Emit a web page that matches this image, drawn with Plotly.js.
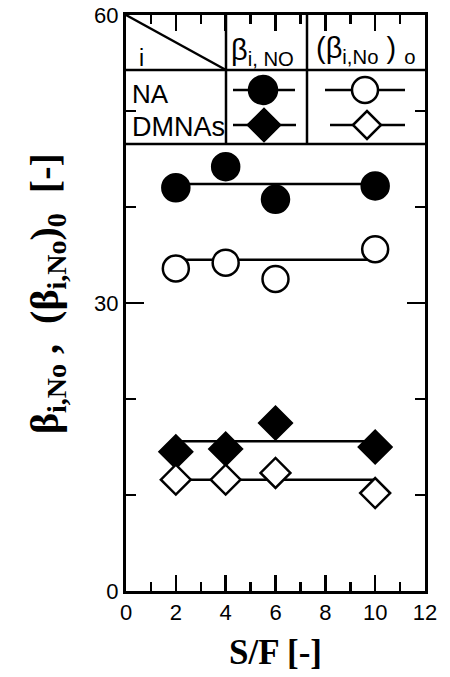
<!DOCTYPE html>
<html><head><meta charset="utf-8">
<script src="https://cdn.plot.ly/plotly-3.0.1.min.js"></script>
<style>body{margin:0;background:#fff}#g{width:450px;height:677px}</style>
</head><body><div id="g"></div>
<script>
const sf = [2, 4, 6, 10];
const naBeta = [42.0, 44.2, 40.8, 42.2];
const naBeta0 = [33.6, 34.2, 32.5, 35.6];
const dmBeta = [14.5, 14.8, 17.5, 15.0];
const dmBeta0 = [11.6, 11.6, 12.3, 10.2];
const fitX = [2, 10];
const naFit = [42.4, 42.4];
const naFit0 = [34.5, 34.5];
const dmFit = [15.6, 15.6];
const dmFit0 = [11.6, 11.6];

const lineStyle = {color: '#000', width: 2.5};
function fit(y) { return {x: fitX, y: y, mode: 'lines', line: lineStyle, hoverinfo: 'skip', showlegend: false}; }
function pts(y, sym, fill, size) {
  return {x: sf, y: y, mode: 'markers', showlegend: false,
    marker: {symbol: sym, size: size, color: fill, line: {color: '#000', width: 2.5}}};
}
const data = [
  fit(naFit), fit(naFit0), fit(dmFit), fit(dmFit0),
  pts(naBeta, 'circle', '#000', 27),
  pts(naBeta0, 'circle', '#fff', 26),
  pts(dmBeta, 'diamond', '#000', 25),
  pts(dmBeta0, 'diamond', '#fff', 23)
];

// pixel -> paper helpers
const L = 126, R = 425, T = 15, B = 591;
const px = v => (v - L) / (R - L);
const py = v => (B - v) / (B - T);
const k = {color: '#000', width: 2.5};
const shapes = [
  {type: 'line', xref: 'paper', yref: 'paper', x0: 0, x1: 1, y0: py(70), y1: py(70), line: k},
  {type: 'line', xref: 'paper', yref: 'paper', x0: 0, x1: 1, y0: py(144), y1: py(144), line: k},
  {type: 'line', xref: 'paper', yref: 'paper', x0: px(226), x1: px(226), y0: py(144), y1: 1, line: k},
  {type: 'line', xref: 'paper', yref: 'paper', x0: px(307), x1: px(307), y0: py(144), y1: 1, line: k},
  {type: 'line', xref: 'paper', yref: 'paper', x0: 0, x1: px(226), y0: 1, y1: py(70), line: k},
  // legend sample lines
  {type: 'line', xref: 'paper', yref: 'paper', x0: px(233), x1: px(295), y0: py(90), y1: py(90), line: k},
  {type: 'line', xref: 'paper', yref: 'paper', x0: px(233), x1: px(296), y0: py(125), y1: py(125), line: k},
  {type: 'line', xref: 'paper', yref: 'paper', x0: px(325), x1: px(405), y0: py(90), y1: py(90), line: k},
  {type: 'line', xref: 'paper', yref: 'paper', x0: px(330), x1: px(405), y0: py(125), y1: py(125), line: k},
  // legend sample markers
  {type: 'circle', xref: 'paper', yref: 'paper', xsizemode: 'pixel', ysizemode: 'pixel',
   xanchor: px(263), yanchor: py(90), x0: -14, x1: 14, y0: -14, y1: 14,
   fillcolor: '#000', line: k},
  {type: 'circle', xref: 'paper', yref: 'paper', xsizemode: 'pixel', ysizemode: 'pixel',
   xanchor: px(365), yanchor: py(90), x0: -13, x1: 13, y0: -13, y1: 13,
   fillcolor: '#fff', line: k},
  {type: 'path', xref: 'paper', yref: 'paper', xsizemode: 'pixel', ysizemode: 'pixel',
   xanchor: px(264), yanchor: py(125), path: 'M -16 0 L 0 16 L 16 0 L 0 -16 Z',
   fillcolor: '#000', line: k},
  {type: 'path', xref: 'paper', yref: 'paper', xsizemode: 'pixel', ysizemode: 'pixel',
   xanchor: px(367), yanchor: py(125), path: 'M -14 0 L 0 14 L 14 0 L 0 -14 Z',
   fillcolor: '#fff', line: k}
];

const sans = 'Liberation Sans, Arial, sans-serif';
const serif = 'Liberation Serif, Times New Roman, serif';
const NB = '\u00A0';
function ann(text, x, y, size, xa) {
  return {text: text, xref: 'paper', yref: 'paper', x: px(x), y: py(y), showarrow: false,
    xanchor: xa || 'left', yanchor: 'middle', font: {family: sans, size: size, color: '#000'}};
}
const yTitle = '<b>β<sub>i,No</sub>' + NB + ',' + NB + NB + '(β<sub>i,No</sub>)<sub>0</sub>' + NB + NB + '[-]</b>';
const annotations = [
  ann('i', 137, 58, 23),
  ann('β<sub>i,' + NB + 'NO</sub>', 229, 52, 29),
  ann('(β<sub>i,No</sub>' + NB + ')' + NB + '<sub>o</sub>', 314, 50, 29),
  ann('NA', 130, 94, 26),
  ann('DMNAs', 130, 127, 27),
  {text: yTitle, textangle: -90, xref: 'paper', yref: 'paper', x: px(47), y: py(294),
   xanchor: 'center', yanchor: 'middle', showarrow: false,
   font: {family: serif, size: 40, color: '#000'}}
];

const axisCommon = {
  showline: true, linecolor: '#000', linewidth: 3, mirror: 'ticks',
  ticks: 'inside', tickcolor: '#000', tickwidth: 2.5, showgrid: false, zeroline: false,
  tickfont: {family: sans, size: 22, color: '#000'}
};
const layout = {
  width: 450, height: 677, paper_bgcolor: '#fff', plot_bgcolor: '#fff',
  margin: {l: L, r: 450 - R, t: T, b: 677 - B},
  showlegend: false,
  xaxis: Object.assign({}, axisCommon, {
    range: [0, 12], tick0: 0, dtick: 2, ticklen: 16,
    minor: {dtick: 1, ticklen: 9, tickwidth: 2.5, tickcolor: '#000', ticks: 'inside'},
    title: {text: '<b>S/F [-]</b>', standoff: 16,
      font: {family: serif, size: 35, color: '#000'}}
  }),
  yaxis: Object.assign({}, axisCommon, {
    range: [0, 60], tick0: 0, dtick: 30, ticklen: 18,
    minor: {dtick: 10, ticklen: 10, tickwidth: 2.5, tickcolor: '#000', ticks: 'inside'}
  }),
  shapes: shapes,
  annotations: annotations
};
Plotly.newPlot('g', data, layout, {displayModeBar: false, staticPlot: true});
</script></body></html>
